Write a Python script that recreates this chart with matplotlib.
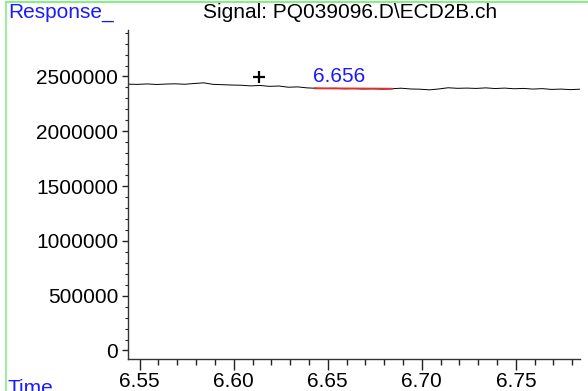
import matplotlib
matplotlib.use("Agg")
import matplotlib.pyplot as plt
from matplotlib.lines import Line2D
from matplotlib.ticker import MultipleLocator

plt.rcParams["font.family"] = ["Liberation Sans", "DejaVu Sans"]

# chromatogram trace
times = [6.544, 6.549, 6.554, 6.559, 6.564, 6.569, 6.574, 6.579, 6.584, 6.589,
         6.594, 6.599, 6.604, 6.609, 6.614, 6.619, 6.624, 6.629, 6.634, 6.639,
         6.644, 6.649, 6.654, 6.659, 6.664, 6.669, 6.674, 6.679, 6.684, 6.689,
         6.694, 6.699, 6.704, 6.709, 6.714, 6.719, 6.724, 6.729, 6.734, 6.739,
         6.744, 6.749, 6.754, 6.759, 6.764, 6.769, 6.774, 6.779, 6.784]
response = [2430e3, 2428e3, 2432e3, 2427e3, 2431e3, 2433e3, 2429e3, 2436e3, 2442e3, 2428e3,
            2425e3, 2422e3, 2420e3, 2414e3, 2418e3, 2410e3, 2413e3, 2402e3, 2405e3, 2396e3,
            2392e3, 2390e3, 2392e3, 2388e3, 2390e3, 2386e3, 2389e3, 2384e3, 2388e3, 2393e3,
            2386e3, 2384e3, 2378e3, 2386e3, 2397e3, 2392e3, 2394e3, 2391e3, 2396e3, 2390e3,
            2394e3, 2388e3, 2391e3, 2385e3, 2389e3, 2382e3, 2385e3, 2380e3, 2384e3]

# integration baseline and peak annotation
base_t = [6.643, 6.684]
base_y = [2392e3, 2388e3]
peak_rt = 6.656
peak_label = "6.656"
mark_t, mark_y = 6.6135, 2495e3

title = "Signal: PQ039096.D\\ECD2B.ch"

fig = plt.figure(figsize=(5.88, 3.91), dpi=100)
ax = fig.add_axes([128 / 588, 32 / 391, 452 / 588, 329 / 391])

ax.plot(times, response, color="black", lw=0.7)
ax.plot(base_t, base_y, color="#e03030", lw=1.4)
ax.plot([mark_t], [mark_y], marker="+", color="black", ms=9, mew=1.6)
ax.text(peak_rt, 2450e3, peak_label, color="#1a1aff", fontsize=15,
        ha="center", va="baseline")

ax.set_xlim(6.5438, 6.7841)
ax.set_ylim(-77600, 2924000)
ax.xaxis.set_major_locator(MultipleLocator(0.05))
ax.xaxis.set_minor_locator(MultipleLocator(0.01))
ax.yaxis.set_major_locator(MultipleLocator(500000))
ax.yaxis.set_minor_locator(MultipleLocator(100000))
ax.xaxis.set_major_formatter(plt.FuncFormatter(lambda v, p: f"{v:.2f}"))
ax.yaxis.set_major_formatter(plt.FuncFormatter(lambda v, p: f"{v:.0f}"))

for s in ("top", "right"):
    ax.spines[s].set_visible(False)
for s in ("left", "bottom"):
    ax.spines[s].set_color("#333333")
    ax.spines[s].set_linewidth(1.0)

ax.tick_params(axis="x", which="major", length=8, width=1, pad=1.5, labelsize=15,
               color="#222222")
ax.tick_params(axis="x", which="minor", length=4.3, width=1, color="#222222")
ax.tick_params(axis="y", which="major", length=4, width=1, pad=3, labelsize=15,
               color="#222222")
ax.tick_params(axis="y", which="minor", length=2, width=0.8, color="#222222")

fig.text(8 / 588, 1 - 13 / 391, "Response_", color="#1a1aff", fontsize=15,
         ha="left", va="center")
fig.text(350 / 588, 1 - 13 / 391, title, color="black", fontsize=15,
         ha="center", va="center")
fig.text(8 / 588, 1 - 388 / 391, "Time", color="#1a1aff", fontsize=15,
         ha="left", va="center")

# light green frame around the report area
green = "#88ee88"
fig.add_artist(Line2D([6 / 588, 1.0], [1 - 2 / 391, 1 - 2 / 391],
                      color=green, lw=1.5, transform=fig.transFigure))
fig.add_artist(Line2D([6 / 588, 6 / 588], [0.0, 1 - 2 / 391],
                      color=green, lw=1.2, transform=fig.transFigure))

fig.savefig("out.png", dpi=100)
